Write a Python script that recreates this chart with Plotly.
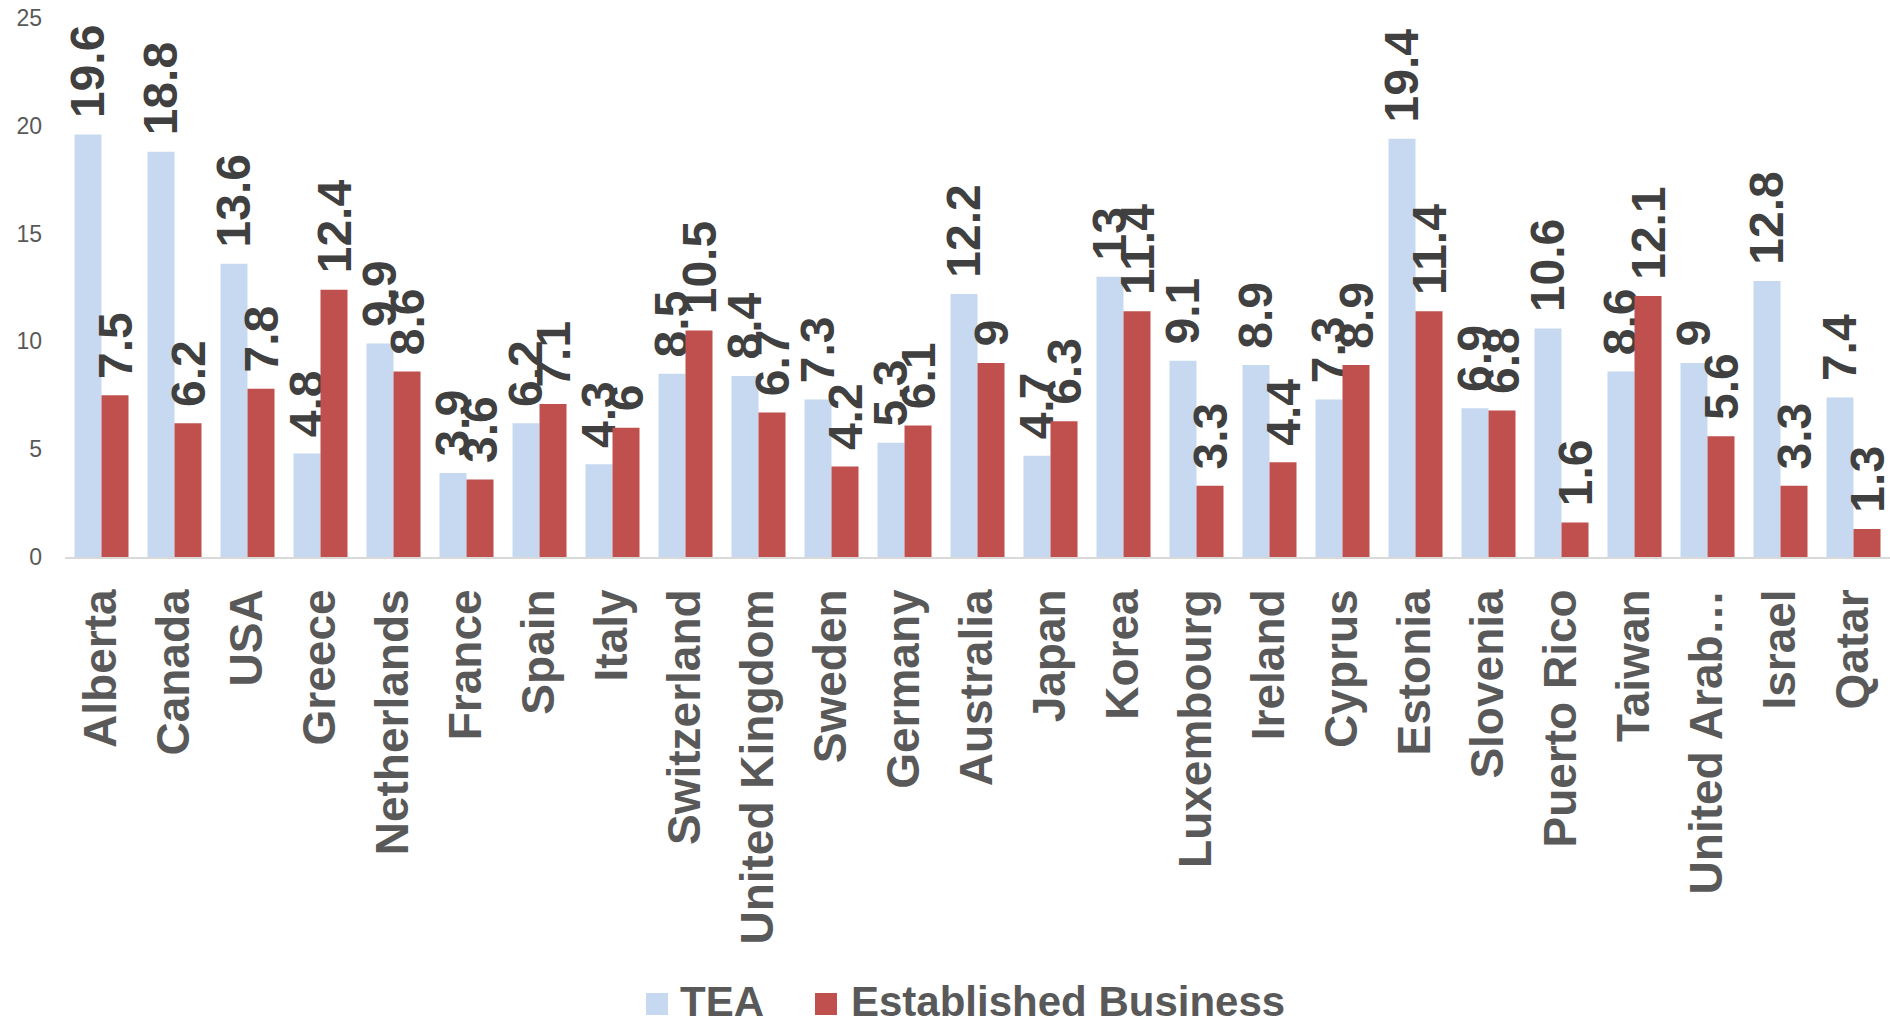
import plotly.graph_objects as go

# Countries / regions compared
categories = [
    "Alberta", "Canada", "USA", "Greece", "Netherlands", "France", "Spain",
    "Italy", "Switzerland", "United Kingdom", "Sweden", "Germany", "Australia",
    "Japan", "Korea", "Luxembourg", "Ireland", "Cyprus", "Estonia", "Slovenia",
    "Puerto Rico", "Taiwan", "United Arab…", "Israel", "Qatar",
]

# Total early-stage entrepreneurial activity (%)
tea = [19.6, 18.8, 13.6, 4.8, 9.9, 3.9, 6.2, 4.3, 8.5, 8.4, 7.3, 5.3, 12.2,
       4.7, 13, 9.1, 8.9, 7.3, 19.4, 6.9, 10.6, 8.6, 9, 12.8, 7.4]

# Established business ownership (%)
established = [7.5, 6.2, 7.8, 12.4, 8.6, 3.6, 7.1, 6, 10.5, 6.7, 4.2, 6.1, 9,
               6.3, 11.4, 3.3, 4.4, 8.9, 11.4, 6.8, 1.6, 12.1, 5.6, 3.3, 1.3]

series_names = ["TEA", "Established Business"]
series_colors = ["#c6d9f0", "#c0504d"]

y_ticks = [0, 5, 10, 15, 20, 25]

W, H = 1890, 1023
ML, MR, MT, MB = 65, 0, 18, 466
PW, PH = W - ML - MR, H - MT - MB

FONT = "Liberation Sans, Arial, sans-serif"

fig = go.Figure()
for name, vals, color in zip(series_names, [tea, established], series_colors):
    fig.add_trace(go.Bar(
        name=name,
        x=categories,
        y=vals,
        marker=dict(color=color, line=dict(width=0)),
        text=[f"{v:g}" for v in vals],
        texttemplate="\u00a0%{text}",
        textposition="outside",
        textangle=-90,
        constraintext="none",
        cliponaxis=False,
        textfont=dict(family=FONT, size=48, color="#404040", weight="bold"),
        showlegend=False,
    ))

fig.update_layout(
    width=W, height=H,
    margin=dict(l=ML, r=MR, t=MT, b=MB, pad=0),
    paper_bgcolor="white",
    plot_bgcolor="white",
    barmode="group",
    bargap=0.26,
    bargroupgap=0,
    font=dict(family=FONT, color="#595959"),
    xaxis=dict(
        tickangle=-90,
        tickfont=dict(family=FONT, size=46, color="#595959", weight="bold"),
        showline=True, linecolor="#d9d9d9", linewidth=2,
        ticks="", showgrid=False, zeroline=False,
        ticklabelstandoff=12,
    ),
    yaxis=dict(
        range=[0, 25],
        tickvals=y_ticks,
        tickfont=dict(family=FONT, size=23, color="#595959"),
        showline=False, showgrid=False, zeroline=False,
        ticks="", ticklabelstandoff=22,
    ),
)

# Legend drawn as colour swatches with labels beneath the chart
def px_x(px):
    return (px - ML) / PW


def px_y(py):
    return (H - MB - py) / PH


legend_y = 1002
swatches = [(657, 679), (826, 850)]
for (sx, tx), name, color in zip(swatches, series_names, series_colors):
    fig.add_shape(
        type="rect", xref="paper", yref="paper",
        xsizemode="pixel", ysizemode="pixel",
        xanchor=px_x(sx), yanchor=px_y(legend_y + 2),
        x0=-11, x1=11, y0=-11, y1=11,
        fillcolor=color, line=dict(width=0),
    )
    fig.add_annotation(
        x=px_x(tx), y=px_y(legend_y), xref="paper", yref="paper",
        xanchor="left", yanchor="middle", showarrow=False,
        text=name, borderpad=0,
        font=dict(family=FONT, size=42, color="#595959", weight="bold"),
    )

fig.write_html("out.html")
